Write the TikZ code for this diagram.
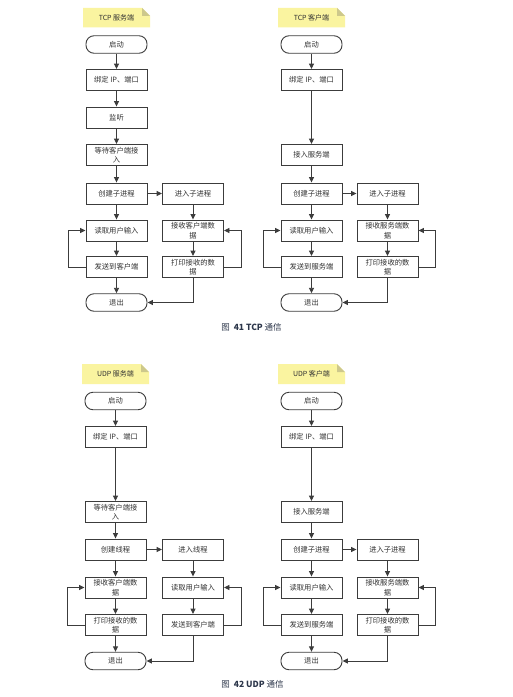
\documentclass[tikz,border=0pt]{standalone}
\usepackage{fontspec}
\setmainfont{Noto Sans CJK SC}
\newfontfamily\cjkf{Noto Sans CJK SC}
\usetikzlibrary{arrows.meta}
\definecolor{linec}{RGB}{60,60,60}
\definecolor{textc}{RGB}{50,50,50}
\definecolor{notey}{RGB}{250,244,160}
\definecolor{notefold}{RGB}{205,200,140}
\definecolor{capc}{RGB}{45,55,75}
\tikzset{
  box/.style={draw=linec, line width=0.9pt, fill=white, minimum width=61pt, minimum height=21pt,
    inner sep=1pt, align=center, text=textc, font=\cjkf\fontsize{7.3}{9.5}\selectfont},
  term/.style={box, rounded corners=8pt, minimum height=17.5pt},
  arr/.style={draw=linec, line width=0.9pt, -{Triangle[length=5.5pt,width=5pt]}},
  notebox/.style={minimum width=67pt, minimum height=19.5pt, inner sep=0pt, text=textc,
    font=\cjkf\fontsize{7}{8}\selectfont,
    path picture={
      \fill[notey] (path picture bounding box.north west) -- ([xshift=-8pt]path picture bounding box.north east)
        -- ([yshift=-8pt]path picture bounding box.north east) -- (path picture bounding box.south east)
        -- (path picture bounding box.south west) -- cycle;
      \fill[notefold] ([xshift=-8pt]path picture bounding box.north east)
        -- ([xshift=-8pt,yshift=-8pt]path picture bounding box.north east)
        -- ([yshift=-8pt]path picture bounding box.north east) -- cycle;}},
  captext/.style={text=capc, font=\cjkf\fontsize{8.5}{10}\selectfont, inner sep=0pt}
}
\begin{document}
\begin{tikzpicture}[x=1pt,y=-1pt]
\fill[white] (0,0) rectangle (513,697);
\path[use as bounding box] (0,0) rectangle (513,697);

% ===== Chart A: TCP server =====
\node[notebox] (a-note) at (116.5,17.5) {TCP 服务端};
\node[term] (a-start) at (116.5,44.5) {启动};
\node[box] (a-bind) at (116.5,80) {绑定 IP、端口};
\node[box] (a-listen) at (116.5,117.5) {监听};
\node[box] (a-wait) at (116.5,155) {等待客户端接\\入};
\node[box] (a-create) at (116.5,193.5) {创建子进程};
\node[box] (a-enter) at (193,193.5) {进入子进程};
\node[box] (a-read) at (116.5,230.5) {读取用户输入};
\node[box] (a-recv) at (193,230.5) {接收客户端数\\据};
\node[box] (a-send) at (116.5,267) {发送到客户端};
\node[box] (a-print) at (193,267) {打印接收的数\\据};
\node[term] (a-exit) at (116.5,302.5) {退出};
\draw[arr] (a-start) -- (a-bind);
\draw[arr] (a-bind) -- (a-listen);
\draw[arr] (a-listen) -- (a-wait);
\draw[arr] (a-wait) -- (a-create);
\draw[arr] (a-create) -- (a-enter);
\draw[arr] (a-create) -- (a-read);
\draw[arr] (a-read) -- (a-send);
\draw[arr] (a-send) -- (a-exit);
\draw[arr] (a-enter) -- (a-recv);
\draw[arr] (a-recv) -- (a-print);
\draw[arr] (a-send.west) -| ([xshift=-17pt]a-read.west) -- (a-read.west);
\draw[arr] (a-print.east) -| ([xshift=17pt]a-recv.east) -- (a-recv.east);
\draw[arr] (a-print.south) |- (a-exit.east);

% ===== Chart B: TCP client =====
\node[notebox] (b-note) at (311.5,17.5) {TCP 客户端};
\node[term] (b-start) at (311.5,44.5) {启动};
\node[box] (b-bind) at (311.5,80) {绑定 IP、端口};
\node[box] (b-conn) at (311.5,155) {接入服务端};
\node[box] (b-create) at (311.5,193.5) {创建子进程};
\node[box] (b-enter) at (387.5,193.5) {进入子进程};
\node[box] (b-read) at (311.5,230.5) {读取用户输入};
\node[box] (b-recv) at (387.5,230.5) {接收服务端数\\据};
\node[box] (b-send) at (311.5,267) {发送到服务端};
\node[box] (b-print) at (387.5,267) {打印接收的数\\据};
\node[term] (b-exit) at (311.5,302.5) {退出};
\draw[arr] (b-start) -- (b-bind);
\draw[arr] (b-bind) -- (b-conn);
\draw[arr] (b-conn) -- (b-create);
\draw[arr] (b-create) -- (b-enter);
\draw[arr] (b-create) -- (b-read);
\draw[arr] (b-read) -- (b-send);
\draw[arr] (b-send) -- (b-exit);
\draw[arr] (b-enter) -- (b-recv);
\draw[arr] (b-recv) -- (b-print);
\draw[arr] (b-send.west) -| ([xshift=-17pt]b-read.west) -- (b-read.west);
\draw[arr] (b-print.east) -| ([xshift=17pt]b-recv.east) -- (b-recv.east);
\draw[arr] (b-print.south) |- (b-exit.east);

\node[captext] (cap1) at (251.5,327) {图\hspace{4pt}{\bfseries 41 TCP} 通信};

% ===== Chart C: UDP server =====
\node[notebox, minimum height=20pt] (c-note) at (115.5,374) {UDP 服务端};
\node[term] (c-start) at (115.5,401) {启动};
\node[box] (c-bind) at (115.5,437) {绑定 IP、端口};
\node[box] (c-wait) at (115.5,512) {等待客户端接\\入};
\node[box] (c-create) at (115.5,549.5) {创建线程};
\node[box] (c-enter) at (193,549.5) {进入线程};
\node[box] (c-recv) at (115.5,587.5) {接收客户端数\\据};
\node[box] (c-read) at (193,587.5) {读取用户输入};
\node[box] (c-print) at (115.5,625) {打印接收的数\\据};
\node[box] (c-send) at (193,625) {发送到客户端};
\node[term] (c-exit) at (115.5,661) {退出};
\draw[arr] (c-start) -- (c-bind);
\draw[arr] (c-bind) -- (c-wait);
\draw[arr] (c-wait) -- (c-create);
\draw[arr] (c-create) -- (c-enter);
\draw[arr] (c-create) -- (c-recv);
\draw[arr] (c-recv) -- (c-print);
\draw[arr] (c-print) -- (c-exit);
\draw[arr] (c-enter) -- (c-read);
\draw[arr] (c-read) -- (c-send);
\draw[arr] (c-print.west) -| ([xshift=-17pt]c-recv.west) -- (c-recv.west);
\draw[arr] (c-send.east) -| ([xshift=17pt]c-read.east) -- (c-read.east);
\draw[arr] (c-send.south) |- (c-exit.east);

% ===== Chart D: UDP client =====
\node[notebox, minimum height=20pt] (d-note) at (311.5,374) {UDP 客户端};
\node[term] (d-start) at (311.5,401) {启动};
\node[box] (d-bind) at (311.5,437) {绑定 IP、端口};
\node[box] (d-conn) at (311.5,512) {接入服务端};
\node[box] (d-create) at (311.5,549.5) {创建子进程};
\node[box] (d-enter) at (387.5,549.5) {进入子进程};
\node[box] (d-read) at (311.5,587.5) {读取用户输入};
\node[box] (d-recv) at (387.5,587.5) {接收服务端数\\据};
\node[box] (d-send) at (311.5,625) {发送到服务端};
\node[box] (d-print) at (387.5,625) {打印接收的数\\据};
\node[term] (d-exit) at (311.5,661) {退出};
\draw[arr] (d-start) -- (d-bind);
\draw[arr] (d-bind) -- (d-conn);
\draw[arr] (d-conn) -- (d-create);
\draw[arr] (d-create) -- (d-enter);
\draw[arr] (d-create) -- (d-read);
\draw[arr] (d-read) -- (d-send);
\draw[arr] (d-send) -- (d-exit);
\draw[arr] (d-enter) -- (d-recv);
\draw[arr] (d-recv) -- (d-print);
\draw[arr] (d-send.west) -| ([xshift=-17pt]d-read.west) -- (d-read.west);
\draw[arr] (d-print.east) -| ([xshift=17pt]d-recv.east) -- (d-recv.east);
\draw[arr] (d-print.south) |- (d-exit.east);

\node[captext] (cap2) at (252.5,684) {图\hspace{4pt}{\bfseries 42 UDP} 通信};
\end{tikzpicture}
\end{document}
